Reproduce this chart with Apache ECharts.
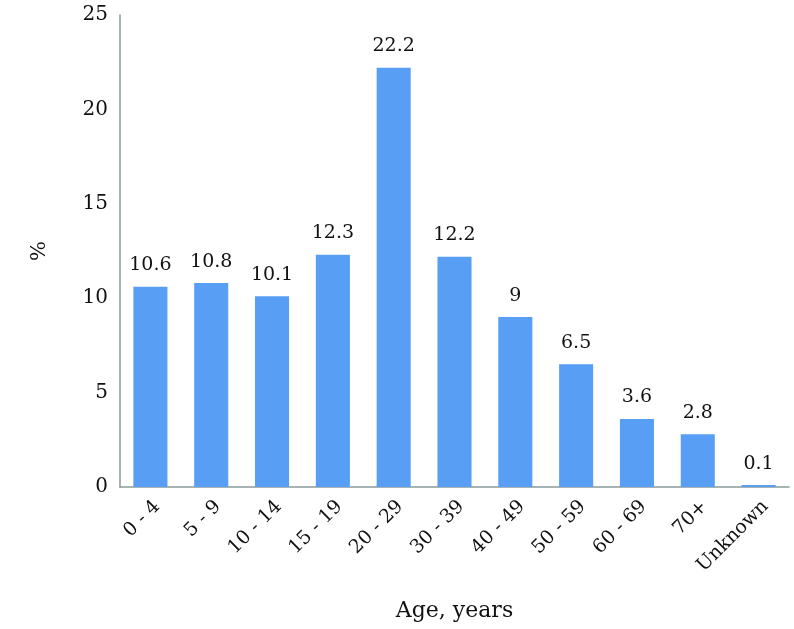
<!DOCTYPE html>
<html><head><meta charset="utf-8">
<script src="https://cdn.jsdelivr.net/npm/echarts@6/dist/echarts.min.js"></script>
<style>html,body{margin:0;padding:0;background:#fff}#c{width:794px;height:629px}</style>
</head><body><div id="c"></div>
<script>
const categories = ['0 - 4','5 - 9','10 - 14','15 - 19','20 - 29','30 - 39','40 - 49','50 - 59','60 - 69','70+','Unknown'];
const values = [10.6,10.8,10.1,12.3,22.2,12.2,9,6.5,3.6,2.8,0.1];
const yTicks = [0,5,10,15,20,25];
const font = 'DejaVu Serif';
const chart = echarts.init(document.getElementById('c'));
chart.setOption({
  animation:false,
  grid:{left:120,right:5,top:15,bottom:142},
  xAxis:{type:'category',data:categories,
    axisLine:{lineStyle:{color:'#8c9a9a',width:1.5}},
    axisTick:{show:false},
    axisLabel:{rotate:45,color:'#111',fontFamily:font,fontSize:19,margin:10,interval:0,verticalAlign:'top'},
    name:'Age, years',nameLocation:'middle',nameGap:113,
    nameTextStyle:{fontFamily:font,fontSize:22,color:'#111'}},
  yAxis:{type:'value',min:0,max:25,interval:5,
    axisLine:{show:true,lineStyle:{color:'#8c9a9a',width:1.5}},
    axisTick:{show:false},splitLine:{show:false},
    axisLabel:{color:'#111',fontFamily:font,fontSize:20,margin:12,
      formatter:v=>yTicks.includes(v)?String(v):''},
    name:'%',nameLocation:'middle',nameGap:70,
    nameTextStyle:{fontFamily:font,fontSize:21,color:'#111'}},
  series:[{type:'bar',data:values,barWidth:'56%',
    itemStyle:{color:'#589ef5'},
    label:{show:true,position:'top',distance:12,color:'#111',fontFamily:font,fontSize:19}}]
});
</script></body></html>
